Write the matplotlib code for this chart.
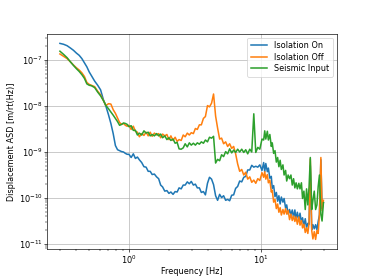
import matplotlib
matplotlib.use("Agg")
import matplotlib.pyplot as plt
from matplotlib.ticker import NullFormatter

freq = [0.30, 0.32, 0.34, 0.36, 0.38, 0.40, 0.42, 0.44, 0.46, 0.48, 0.50, 0.52, 0.55, 0.58, 0.61,
        0.64, 0.67, 0.70, 0.73, 0.76, 0.79, 0.82, 0.85, 0.88, 0.91, 0.94, 0.97,
        1.00, 1.04, 1.08, 1.12, 1.16, 1.20, 1.25, 1.30, 1.35, 1.40, 1.45, 1.50, 1.56, 1.62, 1.68,
        1.74, 1.80, 1.87, 1.94, 2.01, 2.08, 2.16, 2.24, 2.32, 2.40, 2.49, 2.58, 2.67, 2.77, 2.87,
        2.97, 3.08, 3.19, 3.30, 3.42, 3.54, 3.67, 3.80, 3.94, 4.08, 4.23, 4.38, 4.54, 4.70, 4.87,
        5.04, 5.22, 5.41, 5.60, 5.80, 6.01, 6.22, 6.44, 6.67, 6.91, 7.16, 7.42, 7.68, 7.95, 8.24,
        8.53, 8.84, 9.15, 9.48, 9.82,
        10.2, 10.5, 10.7, 10.9, 11.2, 11.4, 11.7, 12.0, 12.2, 12.5, 12.8, 13.1, 13.4, 13.7, 14.0,
        14.3, 14.7, 15.0, 15.4, 15.7, 16.1, 16.5, 16.9, 17.3, 17.7, 18.1, 18.5, 18.9, 19.4, 19.8,
        20.3, 20.7, 21.2, 21.7, 22.2, 22.7, 23.2, 23.7, 24.3, 24.8, 25.4, 26.0, 26.6, 27.2, 27.8,
        28.5, 29.1, 29.8]

isolation_on = [2.29e-7, 2.19e-7, 2.04e-7, 1.82e-7, 1.62e-7, 1.41e-7, 1.26e-7, 1.07e-7, 8.71e-8,
                7.08e-8, 5.50e-8, 4.57e-8, 3.47e-8, 2.82e-8, 2.24e-8, 1.38e-8, 9.77e-9, 6.46e-9,
                4.17e-9, 2.51e-9, 1.38e-9, 1.12e-9, 1.07e-9, 1.02e-9, 1.00e-9, 9.33e-10, 8.91e-10,
                8.91e-10, 7.59e-10, 9.12e-10, 7.24e-10, 7.76e-10, 6.76e-10, 5.89e-10, 4.79e-10,
                4.68e-10, 3.80e-10, 3.80e-10, 3.24e-10, 3.31e-10, 2.88e-10, 2.63e-10, 1.91e-10,
                1.74e-10, 1.41e-10, 1.45e-10, 1.26e-10, 1.35e-10, 1.20e-10, 1.38e-10, 1.35e-10,
                1.66e-10, 1.58e-10, 1.91e-10, 1.91e-10, 2.24e-10, 2.04e-10, 2.29e-10, 1.91e-10,
                2.00e-10, 1.66e-10, 1.66e-10, 1.32e-10, 1.38e-10, 1.17e-10, 2.09e-10, 2.82e-10,
                2.57e-10, 1.95e-10, 1.12e-10, 8.91e-11, 1.20e-10, 1.02e-10, 1.12e-10, 8.91e-11,
                9.33e-11, 8.71e-11, 1.15e-10, 1.17e-10, 1.62e-10, 1.78e-10, 2.34e-10, 2.24e-10,
                2.82e-10, 2.95e-10, 4.07e-10, 4.07e-10, 5.13e-10, 4.68e-10, 4.90e-10, 4.68e-10,
                5.25e-10,
                3.98e-10, 5.89e-10, 3.72e-10, 5.62e-10, 3.72e-10, 4.47e-10, 2.69e-10, 2.95e-10,
                1.62e-10, 1.86e-10, 1.07e-10, 1.32e-10, 8.51e-11, 1.12e-10, 7.41e-11, 1.05e-10,
                8.13e-11, 9.77e-11, 6.03e-11, 7.08e-11, 4.47e-11, 5.62e-11, 4.27e-11, 5.50e-11,
                3.72e-11, 5.50e-11, 3.39e-11, 4.90e-11, 3.24e-11, 4.68e-11, 2.95e-11, 3.72e-11,
                2.40e-11, 3.55e-11, 2.24e-11, 2.82e-11, 2.69e-11, 5.01e-10, 2.04e-11, 2.63e-11,
                2.14e-11, 2.63e-11, 2.04e-11, 3.09e-11, 4.27e-11, 6.76e-10, 5.89e-11, 7.94e-11]

isolation_off = [1.35e-7, 1.20e-7, 1.07e-7, 9.12e-8, 7.76e-8, 6.76e-8, 6.03e-8, 5.25e-8, 4.37e-8,
                 3.24e-8, 2.95e-8, 2.82e-8, 2.63e-8, 2.09e-8, 1.74e-8, 1.32e-8, 1.02e-8, 1.12e-8,
                 1.10e-8, 8.32e-9, 6.92e-9, 5.50e-9, 4.37e-9, 3.98e-9, 4.17e-9, 3.80e-9, 3.63e-9,
                 3.80e-9, 3.09e-9, 3.63e-9, 2.82e-9, 2.69e-9, 2.14e-9, 2.51e-9, 2.29e-9, 2.69e-9,
                 2.24e-9, 2.69e-9, 2.19e-9, 2.57e-9, 2.34e-9, 2.51e-9, 2.04e-9, 2.45e-9, 2.24e-9,
                 2.40e-9, 1.86e-9, 2.24e-9, 1.78e-9, 2.09e-9, 1.70e-9, 1.86e-9, 1.78e-9, 2.34e-9,
                 2.14e-9, 2.57e-9, 2.34e-9, 2.63e-9, 2.51e-9, 3.24e-9, 3.09e-9, 3.89e-9, 3.89e-9,
                 5.37e-9, 5.89e-9, 1.02e-8, 9.55e-9, 1.15e-8, 1.82e-8, 6.03e-9, 3.31e-9, 1.91e-9,
                 2.00e-9, 1.51e-9, 1.66e-9, 1.32e-9, 1.51e-9, 1.20e-9, 1.32e-9, 9.12e-10, 5.50e-10,
                 3.80e-10, 4.17e-10, 3.16e-10, 3.63e-10, 2.57e-10, 2.88e-10, 2.19e-10, 2.45e-10,
                 2.09e-10, 2.63e-10, 2.40e-10,
                 3.55e-10, 2.82e-10, 3.72e-10, 2.57e-10, 3.24e-10, 2.14e-10, 2.45e-10, 1.35e-10,
                 1.48e-10, 8.13e-11, 9.33e-11, 5.89e-11, 7.41e-11, 4.90e-11, 6.17e-11, 4.27e-11,
                 5.62e-11, 4.47e-11, 5.89e-11, 4.47e-11, 5.37e-11, 3.39e-11, 4.47e-11, 3.24e-11,
                 4.07e-11, 3.09e-11, 3.89e-11, 2.69e-11, 3.89e-11, 2.57e-11, 3.24e-11, 2.24e-11,
                 2.69e-11, 1.78e-11, 2.24e-11, 1.70e-11, 2.82e-11, 7.08e-10, 1.95e-11, 1.29e-11,
                 1.86e-11, 1.26e-11, 1.95e-11, 1.70e-11, 4.47e-11, 7.59e-10, 5.37e-11, 8.91e-11]

seismic_input = [1.55e-7, 1.32e-7, 1.12e-7, 9.12e-8, 7.59e-8, 6.46e-8, 5.62e-8, 4.79e-8, 3.98e-8,
                 3.02e-8, 2.82e-8, 2.75e-8, 2.51e-8, 2.00e-8, 1.66e-8, 1.32e-8, 1.02e-8, 8.71e-9,
                 7.41e-9, 6.31e-9, 5.37e-9, 4.57e-9, 3.80e-9, 3.98e-9, 4.27e-9, 4.17e-9, 3.98e-9,
                 3.55e-9, 3.72e-9, 2.95e-9, 2.95e-9, 2.34e-9, 2.57e-9, 2.34e-9, 2.88e-9, 2.57e-9,
                 2.69e-9, 2.24e-9, 2.40e-9, 2.24e-9, 2.51e-9, 2.24e-9, 2.45e-9, 2.04e-9, 2.24e-9,
                 1.86e-9, 2.04e-9, 1.78e-9, 1.91e-9, 1.55e-9, 1.62e-9, 1.17e-9, 1.15e-9, 1.23e-9,
                 1.51e-9, 1.29e-9, 1.58e-9, 1.41e-9, 1.55e-9, 1.41e-9, 1.58e-9, 1.48e-9, 1.66e-9,
                 1.55e-9, 1.82e-9, 1.66e-9, 2.09e-9, 2.00e-9, 2.19e-9, 5.75e-10, 6.92e-10, 6.46e-10,
                 8.71e-10, 7.94e-10, 1.02e-9, 9.12e-10, 1.17e-9, 9.55e-10, 1.10e-9, 9.77e-10,
                 1.15e-9, 1.00e-9, 1.15e-9, 9.77e-10, 1.12e-9, 9.12e-10, 1.15e-9, 1.00e-9, 6.76e-9,
                 9.77e-10, 1.26e-9, 1.15e-9,
                 1.91e-9, 1.82e-9, 2.88e-9, 1.91e-9, 2.82e-9, 1.82e-9, 2.40e-9, 1.32e-9, 1.58e-9,
                 9.33e-10, 1.07e-9, 6.03e-10, 7.59e-10, 4.79e-10, 6.61e-10, 4.17e-10, 5.25e-10,
                 3.16e-10, 3.98e-10, 2.34e-10, 3.16e-10, 2.63e-10, 3.16e-10, 1.91e-10, 2.63e-10,
                 1.66e-10, 2.14e-10, 1.58e-10, 2.09e-10, 1.58e-10, 2.14e-10, 9.77e-11, 1.41e-10,
                 5.62e-11, 1.58e-10, 7.08e-11, 1.78e-10, 7.59e-10, 5.62e-11, 8.91e-11, 1.41e-10,
                 5.62e-11, 7.08e-11, 1.78e-10, 3.16e-10, 4.47e-11, 3.16e-11, 7.94e-11]

series_labels = ["Isolation On", "Isolation Off", "Seismic Input"]
x_major_ticks = [1.0, 10.0]
y_major_ticks = [1e-11, 1e-10, 1e-9, 1e-8, 1e-7]

dpi = 58.4
fig = plt.figure(figsize=(374 / dpi, 280 / dpi), dpi=dpi)
ax = fig.add_subplot(111)
ax.loglog(freq, isolation_on, label=series_labels[0], lw=1.9)
ax.loglog(freq, isolation_off, label=series_labels[1], lw=1.9)
ax.loglog(freq, seismic_input, label=series_labels[2], lw=1.9)
ax.set_xticks(x_major_ticks)
ax.set_yticks(y_major_ticks)
ax.xaxis.set_minor_formatter(NullFormatter())
ax.yaxis.set_minor_formatter(NullFormatter())
ax.grid(True)
ax.tick_params(which="both", pad=1.5)
ax.legend(loc="upper right", labelspacing=0.3, handlelength=2.0, borderpad=0.45)
ax.set_xlabel("Frequency [Hz]", labelpad=1.5)
ax.set_ylabel("Displacement ASD [m/rt(Hz)]", labelpad=3)
fig.savefig("out.png", dpi=dpi)
